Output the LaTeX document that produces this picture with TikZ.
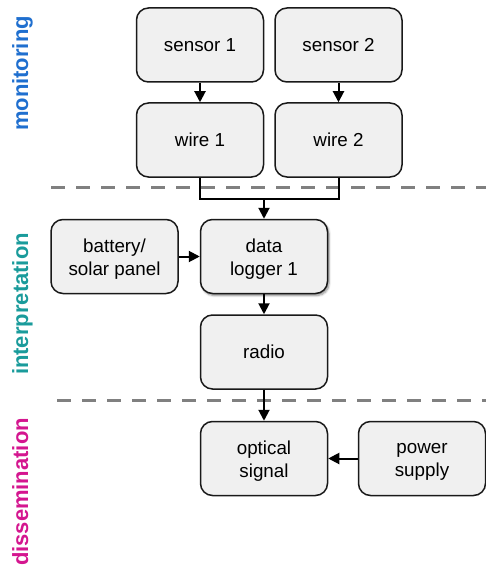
\documentclass[tikz,border=0pt]{standalone}
\usepackage{fontspec}
\setmainfont{Liberation Sans}
\usetikzlibrary{arrows.meta,shadows.blur}
\definecolor{boxfill}{HTML}{F0F0F0}
\definecolor{monblue}{HTML}{1F6FCF}
\definecolor{intteal}{HTML}{1A9B9B}
\definecolor{dismag}{HTML}{D4168F}
\definecolor{dashgray}{HTML}{808080}
\newcommand{\twoline}[2]{\raisebox{-3pt}[\height][\depth]{\parbox{120pt}{\centering #1\\#2}}}
\tikzset{
  blk/.style={draw=black!90, line width=1.5pt, fill=boxfill, rounded corners=12pt,
    minimum width=127pt, minimum height=74pt, align=center,
    font=\fontsize{18.8}{23}\selectfont, inner sep=0pt},
  conn/.style={line width=2pt, line join=miter, -{Triangle[length=11pt,width=11pt]}},
  plainconn/.style={line width=2pt, line join=miter},
  sep/.style={dashgray, line width=3pt, dash pattern=on 14pt off 11pt},
  side/.style={rotate=90, anchor=base, font=\fontsize{22}{26}\selectfont\bfseries}
}
\begin{document}
\begin{tikzpicture}[x=1pt,y=-1pt]
\useasboundingbox (0,0) rectangle (486,567);
% separators
\coordinate (s1a) at (51,187);
\coordinate (s1b) at (486,187);
\coordinate (s2a) at (57,400);
\coordinate (s2b) at (486,400);
\draw[sep] (s1a) -- (s1b);
\draw[sep] (s2a) -- (s2b);
% side labels
\node[side, text=monblue] (lmon) at (28,73.5) {monitoring};
\node[side, text=intteal] (lint) at (28,304) {interpretation};
\node[side, text=dismag] (ldis) at (28,492) {dissemination};
% boxes
\node[blk] (s1) at (200,45) {sensor 1};
\node[blk] (s2) at (338.5,45) {sensor 2};
\node[blk] (w1) at (200,140) {wire 1};
\node[blk] (w2) at (338.5,140) {wire 2};
\node[blk, blur shadow={shadow xshift=1.5pt, shadow yshift=-2pt, shadow blur steps=6, shadow opacity=45}] (dl) at (264,256.5) {\twoline{data}{logger 1}};
\node[blk] (bat) at (114.5,256.5) {\twoline{battery/}{solar panel}};
\node[blk] (rad) at (264,352) {radio};
\node[blk] (opt) at (264,458.5) {\twoline{optical}{signal}};
\node[blk] (pow) at (422,458.5) {\twoline{power}{supply}};
% connectors
\draw[conn] (s1) -- (w1);
\draw[conn] (s2) -- (w2);
\coordinate (join) at (264,199);
\draw[plainconn] (w1.south) |- (join) -| (w2.south);
\draw[conn] (join) -- (dl.north);
\draw[conn] (bat) -- (dl);
\draw[conn] (dl) -- (rad);
\draw[conn] (rad) -- (opt);
\draw[conn] (pow) -- (opt);
\end{tikzpicture}
\end{document}
